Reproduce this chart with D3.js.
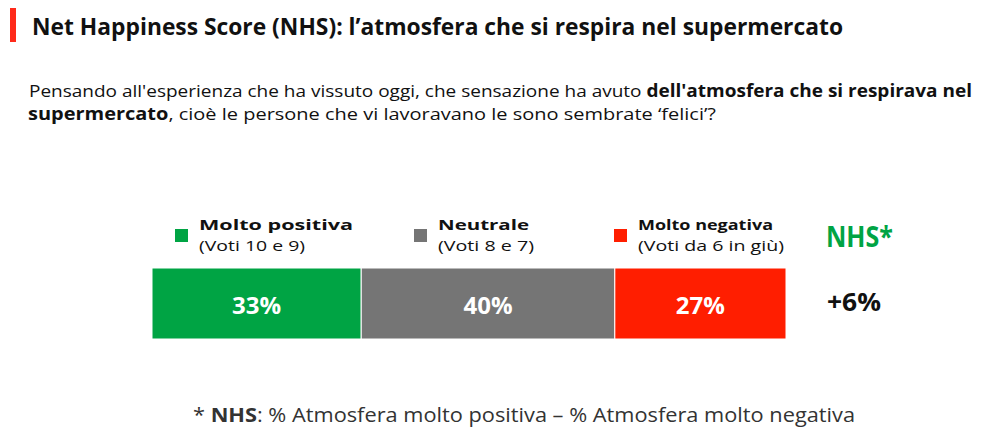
<!DOCTYPE html>
<html><head><meta charset="utf-8">
<script src="https://cdn.jsdelivr.net/npm/d3@7"></script>
<style>body{margin:0;background:#fff}svg{display:block}text{font-family:"Open Sans","Lato",sans-serif}</style>
</head><body><svg id="c" width="1000" height="445"></svg>
<script>
const categories = ["Molto positiva", "Neutrale", "Molto negativa"];
const subLabels = ["(Voti 10 e 9)", "(Voti 8 e 7)", "(Voti da 6 in giù)"];
const values = [33, 40, 27];
const colors = ["#00a444", "#757575", "#ff1e00"];
const nhsValue = 6;
const titleText = "Net Happiness Score (NHS): l’atmosfera che si respira nel supermercato";
const questionLine1 = [["Pensando all'esperienza che ha vissuto oggi, che sensazione ha avuto ", false], ["dell'atmosfera che si respirava nel", true]];
const questionLine2 = [["supermercato", true], [", cioè le persone che vi lavoravano le sono sembrate ‘felici’?", false]];
const footParts = [["* ", false], ["NHS", true], [": % Atmosfera molto positiva – % Atmosfera molto negativa", false]];

const svg = d3.select("#c");
function fit(sel, w) { sel.attr("textLength", w).attr("lengthAdjust", "spacingAndGlyphs"); return sel; }

// title
svg.append("rect").attr("x", 10).attr("y", 8).attr("width", 6).attr("height", 34).attr("fill", "#ff2a1a");
fit(svg.append("text").attr("x", 32).attr("y", 35).attr("font-size", 23).attr("font-weight", 700).attr("fill", "#111").text(titleText), 811);

function multi(parts, x, y, size, w, fill) {
  const t = svg.append("text").attr("x", x).attr("y", y).attr("font-size", size).attr("fill", fill);
  parts.forEach(([s, b]) => t.append("tspan").attr("font-weight", b ? 700 : 400).text(s));
  fit(t, w);
  return t;
}
multi(questionLine1, 29, 97, 17, 943, "#111");
multi(questionLine2, 28, 120, 17, 688, "#111");

// bar
const x = d3.scaleLinear().domain([0, 100]).range([152, 786]);
const starts = values.map((v, i) => d3.sum(values.slice(0, i)));
const barTop = 268, barH = 71;
svg.selectAll("rect.seg").data(values).join("rect").attr("class", "seg")
  .attr("x", (d, i) => x(starts[i])).attr("y", barTop)
  .attr("width", d => x(d) - x(0)).attr("height", barH)
  .attr("fill", (d, i) => colors[i]).attr("stroke", "#fff").attr("stroke-width", 1);
svg.selectAll("text.val").data(values).join("text").attr("class", "val")
  .attr("x", (d, i) => x(starts[i] + d / 2)).attr("y", 314)
  .attr("text-anchor", "middle").attr("font-size", 24).attr("font-weight", 700).attr("fill", "#fff")
  .text(d => d + "%");

// legend
const legX = [175, 414, 614];
const legW1 = [154, 91, 135], legW2 = [106, 96, 146];
categories.forEach((c, i) => {
  svg.append("rect").attr("x", legX[i]).attr("y", 229).attr("width", 13).attr("height", 13).attr("fill", colors[i]);
  fit(svg.append("text").attr("x", legX[i] + 24).attr("y", 230).attr("font-size", 15).attr("font-weight", 700).attr("fill", "#111").text(c), legW1[i]);
  fit(svg.append("text").attr("x", legX[i] + 24).attr("y", 251).attr("font-size", 15).attr("fill", "#111").text(subLabels[i]), legW2[i]);
});

// NHS
fit(svg.append("text").attr("x", 826).attr("y", 247).attr("font-size", 28).attr("font-weight", 700).attr("fill", "#00a444").text("NHS*"), 67);
fit(svg.append("text").attr("x", 827).attr("y", 311).attr("font-size", 25).attr("font-weight", 700).attr("fill", "#111").text((nhsValue >= 0 ? "+" : "") + nhsValue + "%"), 54);

// footnote
multi(footParts, 193, 422, 20, 662, "#333");
</script></body></html>
